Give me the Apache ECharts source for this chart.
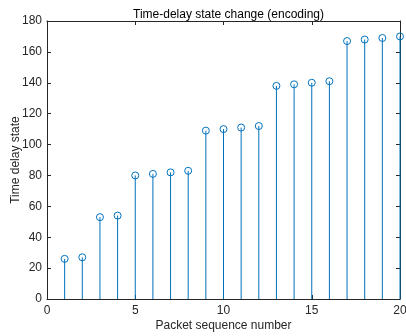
<!DOCTYPE html>
<html>
<head>
<meta charset="utf-8">
<script src="https://cdn.jsdelivr.net/npm/echarts@6/dist/echarts.min.js"></script>
<style>
  html, body { margin: 0; padding: 0; background: #fff; }
  #chart { width: 406px; height: 336px; }
</style>
</head>
<body>
<div id="chart"></div>
<script>
// packet index and time-delay state
var packets = [1, 2, 3, 4, 5, 6, 7, 8, 9, 10, 11, 12, 13, 14, 15, 16, 17, 18, 19, 20];
var delayState = [26, 27, 53, 54, 80, 81, 82, 83, 109, 110, 111, 112, 138, 139, 140, 141, 167, 168, 169, 170];
var xTicks = [0, 5, 10, 15, 20];
var yTicks = [0, 20, 40, 60, 80, 100, 120, 140, 160, 180];

var axisColor = '#262626';
var stemColor = '#0072BD';
var font = '"Liberation Sans", Arial, sans-serif';

var stemData = packets.map(function (p, i) { return [p, delayState[i]]; });

var myChart = echarts.init(document.getElementById('chart'));

function baseAxis(extra) {
  var a = {
    type: 'value',
    axisLine: { show: true, onZero: false, lineStyle: { color: axisColor, width: 1 } },
    axisTick: { show: true, inside: true, length: 4, lineStyle: { color: axisColor } },
    splitLine: { show: false },
    axisLabel: { color: axisColor, fontFamily: font, fontSize: 12 }
  };
  return Object.assign(a, extra);
}

var options = {
  animation: false,
  title: {
    text: 'Time-delay state change (encoding)',
    left: 128,
    top: 4,
    textStyle: { color: '#000', fontFamily: font, fontSize: 12, fontWeight: 'normal' }
  },
  grid: { left: 47, right: 6, top: 21, bottom: 37, containLabel: false, outerBoundsMode: 'none' },
  xAxis: [
    baseAxis({
      min: xTicks[0], max: xTicks[xTicks.length - 1], interval: 5,
      position: 'bottom',
      name: 'Packet sequence number', nameLocation: 'middle', nameGap: 21,
      nameMoveOverlap: false,
      nameTextStyle: { color: axisColor, fontFamily: font, fontSize: 12 },
      axisLabel: { color: axisColor, fontFamily: font, fontSize: 12, margin: 6 }
    }),
    baseAxis({
      min: xTicks[0], max: xTicks[xTicks.length - 1], interval: 5,
      position: 'top', axisLabel: { show: false }
    })
  ],
  yAxis: [
    baseAxis({
      min: yTicks[0], max: yTicks[yTicks.length - 1], interval: 20,
      position: 'left',
      name: 'Time delay state', nameLocation: 'middle', nameGap: 25,
      nameMoveOverlap: false,
      nameTextStyle: { color: axisColor, fontFamily: font, fontSize: 12 },
      axisLabel: { color: axisColor, fontFamily: font, fontSize: 12, margin: 5 }
    }),
    baseAxis({
      min: yTicks[0], max: yTicks[yTicks.length - 1], interval: 20,
      position: 'right', axisLabel: { show: false }
    })
  ],
  series: [{
    type: 'custom',
    xAxisIndex: 0,
    yAxisIndex: 0,
    data: stemData,
    clip: false,
    renderItem: function (params, api) {
      var x = api.value(0), y = api.value(1);
      var top = api.coord([x, y]);
      var base = api.coord([x, 0]);
      return {
        type: 'group',
        children: [
          {
            type: 'line',
            shape: { x1: base[0], y1: base[1], x2: top[0], y2: top[1] },
            style: { stroke: stemColor, lineWidth: 1 }
          },
          {
            type: 'circle',
            shape: { cx: top[0], cy: top[1], r: 3.5 },
            style: { stroke: stemColor, fill: 'none', lineWidth: 1 }
          }
        ]
      };
    }
  }]
};

myChart.setOption(options);
</script>
</body>
</html>
